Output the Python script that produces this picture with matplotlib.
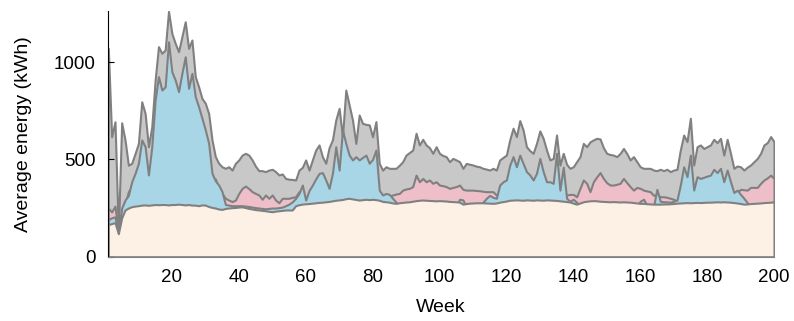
import numpy as np
import matplotlib
matplotlib.use("Agg")
import matplotlib.pyplot as plt

plt.rcParams["font.family"] = ["Liberation Sans", "DejaVu Sans"]

weeks = np.arange(1, 201)

# top envelope (grey area)
total = [
    1070, 616, 693, 125, 688, 600, 470, 480, 530, 582,
    796, 736, 565, 668, 907, 1079, 1045, 1062, 1260, 1147,
    1096, 1053, 1130, 1207, 1070, 1113, 925, 873, 813, 788,
    736, 600, 514, 480, 462, 454, 462, 445, 480, 497,
    522, 531, 522, 497, 465, 442, 442, 437, 445, 449,
    437, 420, 425, 402, 398, 397, 394, 445, 459, 497,
    445, 497, 548, 574, 514, 480, 560, 600, 702, 762,
    616, 856, 779, 702, 582, 728, 685, 680, 677, 616,
    694, 479, 445, 462, 454, 454, 454, 470, 488, 522,
    535, 548, 634, 574, 603, 574, 560, 531, 565, 531,
    520, 514, 488, 505, 497, 488, 454, 479, 475, 471,
    465, 462, 454, 450, 445, 454, 445, 497, 510, 522,
    600, 660, 617, 699, 651, 565, 545, 531, 582, 646,
    608, 548, 497, 505, 625, 470, 531, 475, 454, 462,
    488, 514, 582, 565, 590, 600, 608, 605, 560, 531,
    525, 522, 514, 531, 556, 530, 497, 514, 488, 462,
    454, 454, 454, 445, 442, 449, 442, 449, 437, 445,
    449, 548, 625, 591, 711, 471, 565, 574, 556, 565,
    574, 603, 586, 608, 522, 603, 531, 454, 466, 462,
    445, 460, 471, 488, 505, 531, 574, 586, 617, 591,
]

# pink series
pink = [
    250, 230, 260, 122, 230, 270, 334, 360, 300, 300,
    310, 310, 300, 310, 320, 320, 320, 320, 320, 320,
    320, 320, 320, 320, 320, 320, 320, 320, 320, 320,
    320, 320, 400, 350, 325, 300, 291, 283, 291, 325,
    351, 363, 350, 334, 325, 317, 295, 317, 300, 317,
    291, 277, 300, 300, 300, 305, 308, 334, 330, 285,
    320, 330, 330, 330, 330, 330, 330, 330, 330, 330,
    330, 330, 330, 330, 330, 330, 330, 330, 330, 330,
    330, 320, 300, 310, 310, 317, 322, 325, 342, 348,
    351, 360, 419, 385, 402, 385, 394, 377, 385, 368,
    365, 360, 351, 356, 360, 368, 346, 342, 342, 342,
    340, 339, 336, 334, 334, 334, 317, 330, 330, 330,
    330, 330, 330, 330, 330, 330, 330, 330, 330, 330,
    330, 330, 330, 330, 330, 330, 330, 317, 320, 320,
    308, 351, 394, 377, 334, 385, 410, 432, 402, 380,
    368, 368, 372, 377, 402, 380, 360, 342, 356, 351,
    342, 338, 334, 315, 320, 308, 308, 305, 300, 295,
    285, 330, 330, 330, 330, 330, 330, 330, 330, 330,
    330, 330, 330, 330, 330, 330, 330, 320, 330, 346,
    344, 342, 356, 356, 356, 377, 394, 405, 419, 402,
]

# blue series
blue = [
    190, 200, 205, 120, 250, 291, 315, 385, 428, 480,
    600, 565, 420, 565, 805, 925, 856, 873, 1104, 950,
    907, 848, 942, 1027, 865, 942, 822, 770, 711, 651,
    582, 428, 390, 368, 334, 268, 265, 262, 262, 262,
    262, 260, 258, 255, 252, 250, 248, 246, 248, 250,
    250, 252, 255, 262, 270, 282, 300, 325, 368, 291,
    340, 368, 400, 428, 432, 394, 351, 428, 565, 445,
    650, 582, 522, 497, 514, 497, 510, 522, 480, 500,
    548, 342, 317, 325, 320, 300, 280, 262, 250, 250,
    250, 250, 250, 250, 250, 250, 250, 250, 250, 250,
    250, 250, 250, 250, 260, 295, 292, 255, 250, 250,
    250, 255, 280, 300, 315, 305, 300, 368, 385, 394,
    470, 514, 462, 522, 479, 437, 420, 394, 428, 505,
    437, 385, 385, 377, 531, 342, 460, 300, 285, 295,
    280, 255, 255, 255, 255, 255, 255, 255, 255, 255,
    255, 255, 255, 255, 255, 255, 255, 255, 260, 285,
    295, 265, 255, 260, 346, 285, 282, 282, 280, 285,
    291, 368, 462, 411, 522, 342, 411, 402, 408, 414,
    419, 449, 432, 454, 385, 445, 385, 330, 342, 320,
    300, 278, 255, 255, 255, 255, 255, 255, 255, 255,
]

# base load (peach area)
base = [
    165, 170, 175, 118, 200, 240, 250, 257, 260, 262,
    265, 266, 264, 266, 268, 267, 268, 268, 266, 268,
    268, 270, 268, 266, 268, 265, 265, 262, 266, 265,
    258, 253, 250, 245, 243, 248, 250, 252, 253, 255,
    256, 252, 248, 245, 242, 240, 238, 236, 233, 231,
    234, 236, 238, 240, 240, 240, 262, 267, 270, 272,
    273, 275, 277, 279, 280, 282, 284, 287, 290, 292,
    294, 298, 300, 297, 294, 291, 293, 295, 293, 295,
    293, 290, 284, 282, 280, 276, 274, 277, 279, 281,
    282, 285, 288, 290, 291, 290, 289, 288, 287, 288,
    287, 286, 284, 283, 282, 280, 270, 273, 275, 276,
    277, 277, 277, 276, 275, 274, 276, 280, 283, 286,
    290, 291, 292, 291, 290, 292, 291, 290, 292, 291,
    290, 292, 291, 290, 289, 287, 285, 283, 281, 275,
    270, 276, 282, 285, 287, 288, 287, 285, 284, 283,
    282, 283, 282, 281, 282, 281, 280, 278, 276, 274,
    274, 272, 271, 270, 270, 270, 271, 271, 272, 273,
    275, 276, 277, 278, 277, 278, 279, 278, 279, 280,
    280, 281, 282, 281, 282, 281, 280, 278, 276, 273,
    270, 271, 273, 274, 275, 276, 278, 279, 280, 282,
]

edge = "#808080"
layers = [
    (total, "#c8c8c8"),
    (pink, "#efbfc9"),
    (blue, "#a9d6e6"),
    (base, "#fdf1e6"),
]

fig = plt.figure(figsize=(7.94, 3.21), dpi=100)
ax = fig.add_axes([0.1364, 0.2003, 0.8384, 0.7654])

for values, color in layers:
    ax.fill_between(weeks, 0, values, facecolor=color, edgecolor=edge,
                    linewidth=1.5)

ax.set_xlim(1, 200)
ax.set_ylim(0, 1262)
ax.set_xticks(np.arange(20, 201, 20))
ax.set_yticks([0, 500, 1000])
ax.tick_params(axis="y", direction="in", length=4, labelsize=13.5, pad=9)
ax.tick_params(axis="x", length=0, labelsize=13.5, pad=9)
ax.set_xlabel("Week", fontsize=14, labelpad=9)
ax.set_ylabel("Average energy (kWh)", fontsize=14, labelpad=16)

for side in ("top", "right"):
    ax.spines[side].set_visible(False)
ax.spines["bottom"].set_color(edge)
ax.spines["left"].set_color("black")

fig.savefig("out.png", dpi=100)
